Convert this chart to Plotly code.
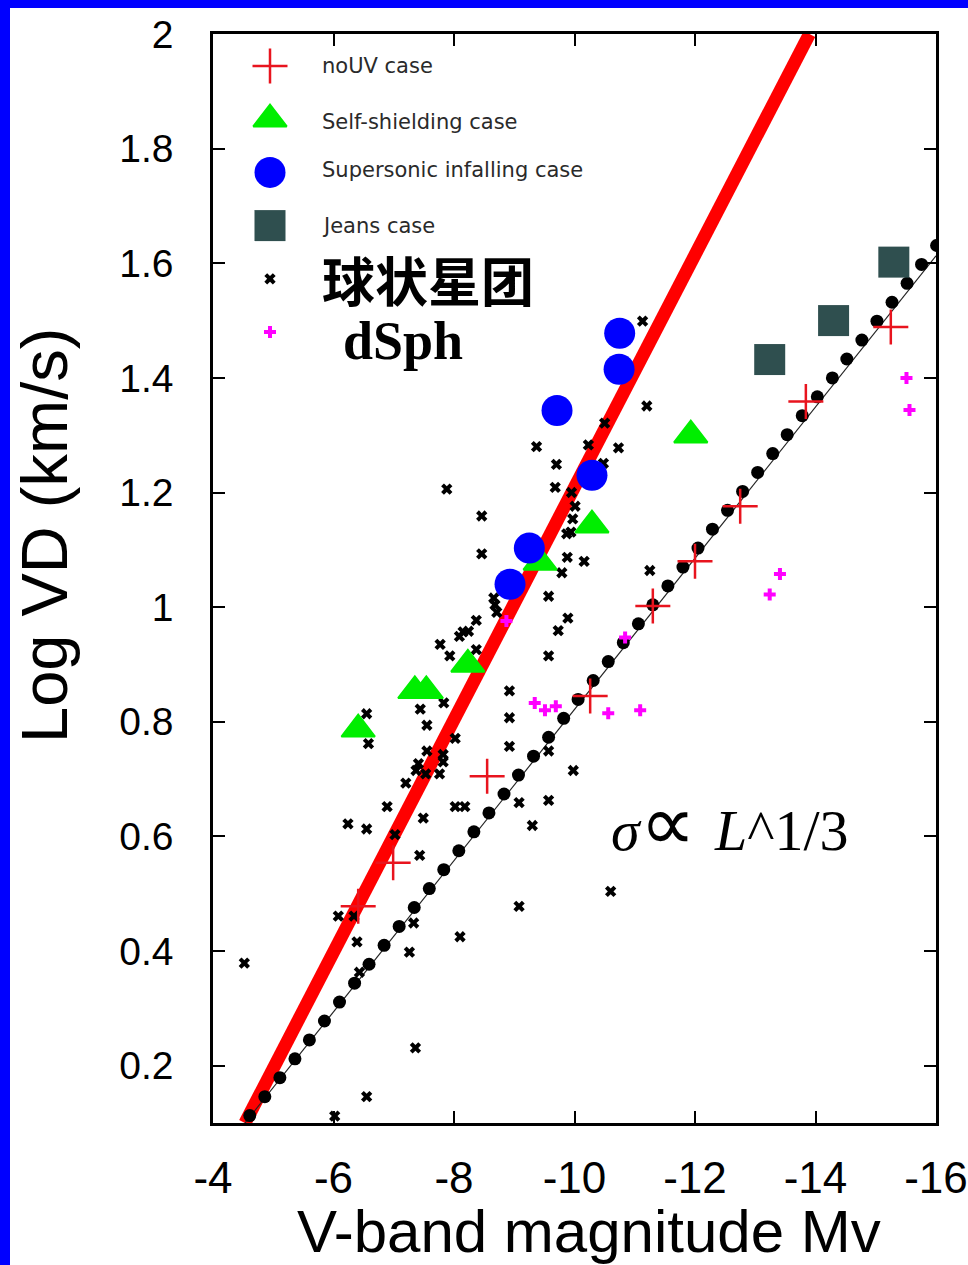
import plotly.graph_objects as go

# ---------------- data ----------------
# noUV case (red +)
nouv_mv = [-6.41, -6.99, -8.55, -10.26, -11.30, -12.00, -12.75, -13.84, -15.25]
nouv_vd = [0.478, 0.554, 0.705, 0.845, 1.002, 1.080, 1.176, 1.359, 1.489]

# Self-shielding case (green triangles)
self_mv = [-6.41, -7.35, -7.54, -8.23, -9.43, -10.29, -11.93]
self_vd = [0.787, 0.854, 0.854, 0.900, 1.078, 1.143, 1.300]

# Supersonic infalling case (blue circles)
super_mv = [-8.93, -9.25, -10.29, -9.71, -10.74, -10.75]
super_vd = [1.040, 1.103, 1.230, 1.343, 1.415, 1.478]

# Jeans case (dark squares)
jeans_mv = [-13.24, -14.30, -15.30]
jeans_vd = [1.432, 1.500, 1.602]

# dSph (magenta +)
dsph_mv = [-15.51, -15.56, -13.41, -13.24, -9.34, -9.51, -9.69, -10.56, -11.09, -10.84, -8.87]
dsph_vd = [1.400, 1.344, 1.058, 1.022, 0.833, 0.820, 0.827, 0.815, 0.820, 0.947, 0.976]

# globular clusters (black x)
gc_mv = [-11.13, -11.20, -10.50, -9.37, -10.23, -10.73, -9.70, -10.48, -7.88, -9.68,
         -9.95, -10.01, -8.46, -9.97, -9.87, -9.94, -8.46, -9.88, -10.16, -11.25,
         -9.79, -9.57, -8.66, -8.68, -8.71, -9.89, -8.37, -9.73, -8.15, -8.24,
         -8.09, -7.77, -7.93, -8.37, -9.57, -8.92, -7.83, -7.44, -6.55, -8.92,
         -7.55, -6.58, -8.02, -8.92, -9.57, -7.55, -7.82, -7.82, -7.41, -7.37,
         -7.53, -7.76, -7.20, -9.98, -6.89, -8.02, -8.18, -9.08, -9.57, -7.49,
         -6.24, -6.55, -7.02, -9.30, -7.43, -10.60, -9.08, -6.08, -6.34, -7.33,
         -6.39, -8.10, -7.26, -6.43, -4.52, -7.36, -6.55, -6.02]
gc_vd = [1.499, 1.351, 1.321, 1.280, 1.283, 1.278, 1.249, 1.251, 1.206, 1.209,
         1.200, 1.176, 1.159, 1.154, 1.128, 1.131, 1.093, 1.087, 1.080, 1.064,
         1.060, 1.019, 1.016, 1.004, 0.991, 0.981, 0.977, 0.959, 0.957, 0.958,
         0.949, 0.935, 0.915, 0.926, 0.915, 0.854, 0.833, 0.822, 0.814, 0.807,
         0.794, 0.762, 0.771, 0.757, 0.749, 0.749, 0.743, 0.730, 0.727, 0.715,
         0.709, 0.709, 0.693, 0.715, 0.652, 0.652, 0.652, 0.659, 0.663, 0.632,
         0.622, 0.613, 0.603, 0.619, 0.567, 0.504, 0.478, 0.461, 0.461, 0.449,
         0.416, 0.425, 0.398, 0.363, 0.379, 0.231, 0.146, 0.112]

# sigma ~ L^1/3 relation drawn as big dots
dots_mv = [-4.61, -4.86, -5.11, -5.36, -5.60, -5.85, -6.10, -6.35, -6.59, -6.84,
           -7.09, -7.34, -7.59, -7.83, -8.08, -8.33, -8.58, -8.83, -9.07, -9.32,
           -9.57, -9.82, -10.06, -10.31, -10.56, -10.81, -11.06, -11.30, -11.55, -11.80,
           -12.05, -12.29, -12.54, -12.79, -13.04, -13.29, -13.53, -13.78, -14.03, -14.28,
           -14.52, -14.77, -15.02, -15.27, -15.52, -15.76, -16.01]
dots_vd = [0.113, 0.146, 0.179, 0.212, 0.245, 0.278, 0.311, 0.344, 0.377, 0.410,
           0.443, 0.476, 0.509, 0.542, 0.575, 0.608, 0.641, 0.674, 0.707, 0.740,
           0.773, 0.806, 0.839, 0.872, 0.905, 0.938, 0.971, 1.004, 1.037, 1.070,
           1.103, 1.136, 1.169, 1.202, 1.235, 1.268, 1.301, 1.334, 1.367, 1.400,
           1.433, 1.466, 1.499, 1.532, 1.565, 1.598, 1.631]

# thin reference line and thick red fit line (end points)
thin_mv = [-4.53, -16.0]
thin_vd = [0.100, 1.613]
red_mv = [-4.53, -13.90]
red_vd = [0.100, 2.000]

# axes
x_ticks = [-4, -6, -8, -10, -12, -14, -16]
x_ticktext = ["-4", "-6", "-8", "-10", "-12", "-14", "-16"]
y_ticks = [0.2, 0.4, 0.6, 0.8, 1.0, 1.2, 1.4, 1.6, 1.8, 2.0]
y_ticktext = ["0.2", "0.4", "0.6", "0.8", "1", "1.2", "1.4", "1.6", "1.8", "2"]

legend_labels = ["noUV case", "Self-shielding case", "Supersonic infalling case",
                 "Jeans case", "球状星团", "dSph"]
x_title = "V-band magnitude Mv"
y_title = "Log VD (km/s)"
relation_text = ("<i>σ</i><span style='font-size:78px'>∝</span> \u200a"
                 "<i>L</i>^1/3")

# ---------------- layout constants ----------------
W, H = 968, 1265
ML, MR, MT, MB = 213, 32, 34, 142
PW = W - ML - MR
PH = H - MT - MB


def fx(px):
    return (px - ML) / PW


def fy(py):
    return (H - MB - py) / PH


SANS = "Liberation Sans, Arial, Helvetica, sans-serif"
SERIF = "Liberation Serif, Times New Roman, serif"

styles = {
    "nouv": dict(symbol="cross-thin", size=25, color="#e8141e", line=dict(color="#e8141e", width=2.5)),
    "self": dict(symbol="triangle-up", size=29, color="#00ee00", line=dict(color="#00ee00", width=2)),
    "super": dict(symbol="circle", size=31, color="#0000ff"),
    "jeans": dict(symbol="square", size=31, color="#2f4f4f"),
    "gc": dict(symbol="x", size=10, color="black"),
    "dsph": dict(symbol="cross", size=10, color="#ff00ff"),
}

fig = go.Figure()

fig.add_trace(go.Scatter(x=red_mv, y=red_vd, mode="lines",
                         line=dict(color="#ff0000", width=13), hoverinfo="skip"))
fig.add_trace(go.Scatter(x=thin_mv, y=thin_vd, mode="lines",
                         line=dict(color="#222222", width=1.2), hoverinfo="skip"))
fig.add_trace(go.Scatter(x=dots_mv, y=dots_vd, mode="markers",
                         marker=dict(symbol="circle", size=13, color="black")))
fig.add_trace(go.Scatter(x=gc_mv, y=gc_vd, mode="markers", marker=styles["gc"]))
fig.add_trace(go.Scatter(x=dsph_mv, y=dsph_vd, mode="markers", marker=styles["dsph"]))
fig.add_trace(go.Scatter(x=nouv_mv, y=nouv_vd, mode="markers", marker=styles["nouv"]))
fig.add_trace(go.Scatter(x=self_mv, y=self_vd, mode="markers", marker=styles["self"]))
fig.add_trace(go.Scatter(x=super_mv, y=super_vd, mode="markers", marker=styles["super"]))
fig.add_trace(go.Scatter(x=jeans_mv, y=jeans_vd, mode="markers", marker=styles["jeans"]))

# legend keys on a small categorical overlay axis
key_styles = [styles["nouv"], styles["self"], styles["super"], styles["jeans"],
              styles["gc"], styles["dsph"]]
for lab, st in zip(legend_labels, key_styles):
    fig.add_trace(go.Scatter(x=["key"], y=[lab], mode="markers", marker=st,
                             xaxis="x2", yaxis="y2", cliponaxis=False, hoverinfo="skip"))

annotations = []
small_font = dict(family="DejaVu Sans, sans-serif", size=21, color="#2a2a2a")
legend_fonts = [small_font, small_font, small_font, small_font,
                dict(family="Noto Sans CJK SC", size=53, color="black", weight="bold"),
                dict(family=SERIF, size=54, color="black", weight="bold")]
legend_xshift = [50, 50, 50, 50, 50, 71]
legend_yshift = [0, -3, 2, 0, 0, -9]
for lab, fnt, xs, ys in zip(legend_labels, legend_fonts, legend_xshift, legend_yshift):
    annotations.append(dict(x="key", y=lab, xref="x2", yref="y2", text=lab, showarrow=False,
                            xanchor="left", yanchor="middle", xshift=xs, yshift=ys, font=fnt))

annotations.append(dict(x=fx(609), y=fy(824), xref="paper", yref="paper", text=relation_text,
                        showarrow=False, xanchor="left", yanchor="middle",
                        font=dict(family=SERIF, size=58, color="black")))
annotations.append(dict(x=fx(589), y=fy(1231), xref="paper", yref="paper", text=x_title,
                        showarrow=False, xanchor="center", yanchor="middle",
                        font=dict(family=SANS, size=60, color="black")))
annotations.append(dict(x=fx(44), y=fy(536), xref="paper", yref="paper", text=y_title,
                        showarrow=False, xanchor="center", yanchor="middle", textangle=-90,
                        font=dict(family=SANS, size=65, color="black")))

shapes = [
    dict(type="rect", xref="paper", yref="paper", x0=fx(0), x1=fx(10), y0=fy(H), y1=fy(0),
         fillcolor="#0000ff", line=dict(width=0)),
    dict(type="rect", xref="paper", yref="paper", x0=fx(0), x1=fx(W), y0=fy(8), y1=fy(0),
         fillcolor="#0000ff", line=dict(width=0)),
]

axis_common = dict(showline=True, linecolor="black", linewidth=2.5, mirror="ticks",
                   ticks="inside", ticklen=12, tickwidth=2, tickcolor="black",
                   showgrid=False, zeroline=False, automargin=False)

fig.update_layout(
    width=W, height=H,
    margin=dict(l=ML, r=MR, t=MT, b=MB, autoexpand=False),
    paper_bgcolor="white", plot_bgcolor="rgba(0,0,0,0)",
    showlegend=False,
    xaxis=dict(range=[-4, -16], tickvals=x_ticks, ticktext=x_ticktext,
               tickfont=dict(family=SANS, size=44, color="black"),
               ticklabelstandoff=14, **axis_common),
    yaxis=dict(range=[0.1, 2.0], tickvals=y_ticks, ticktext=y_ticktext,
               tickfont=dict(family=SANS, size=39, color="black"),
               ticklabelstandoff=29, **axis_common),
    xaxis2=dict(domain=[fx(255), fx(285)], anchor="y2", type="category",
                categoryorder="array", categoryarray=["key"], range=[-0.5, 0.5],
                visible=False, fixedrange=True, automargin=False),
    yaxis2=dict(domain=[fy(358.6), fy(39.4)], anchor="x2", type="category",
                categoryorder="array", categoryarray=legend_labels, range=[5.5, -0.5],
                visible=False, fixedrange=True, automargin=False),
    annotations=annotations,
    shapes=shapes,
)

fig.write_html("out.html",
               config={"displayModeBar": False},
               post_script="document.body.style.margin='0px';"
                           "document.body.style.overflow='hidden';")
